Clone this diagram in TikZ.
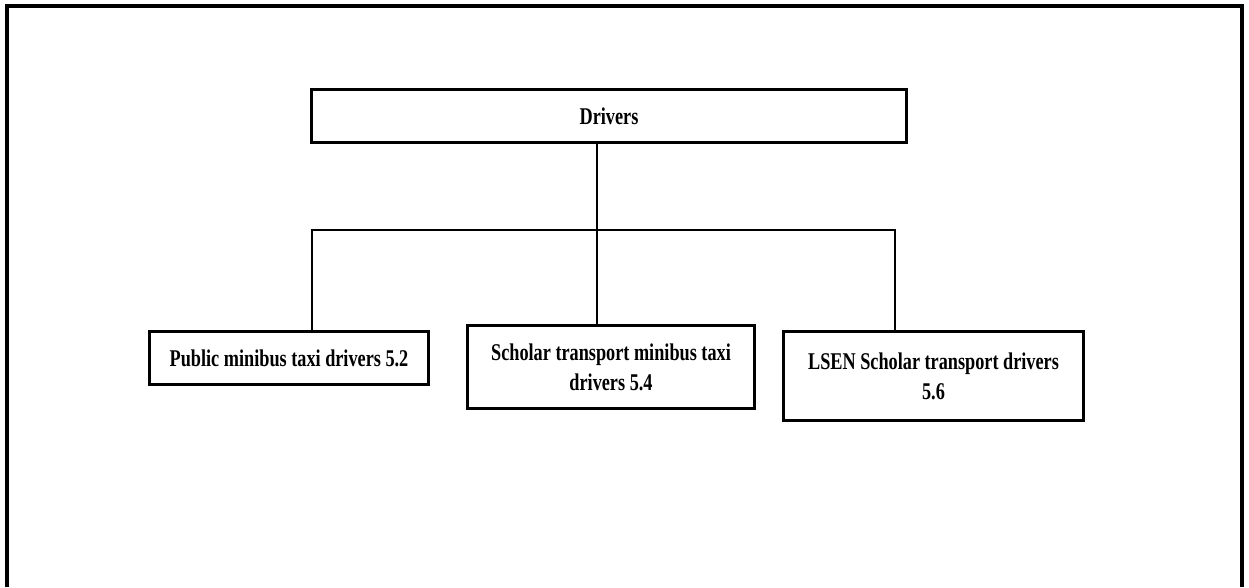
\documentclass[tikz,border=0pt]{standalone}
\usepackage{fontspec}
\setmainfont[FakeStretch=0.76]{Liberation Serif}
\begin{document}
\begin{tikzpicture}[x=1pt,y=-1pt,
  box/.style={draw, line width=3pt, anchor=north west, inner sep=0pt,
    align=center, font=\fontsize{24}{30}\selectfont\bfseries},
  link/.style={line width=2.8pt, line join=miter}]
\useasboundingbox (0,0) rectangle (1249,587);
% outer frame, open at the bottom
\draw[line width=3.2pt] (7,587) -- (7,6) -- (1242,6) -- (1242,587);

% boxes
\node[box, minimum width=595pt, minimum height=53pt] (top) at (310,88) {Drivers};
\node[box, minimum width=279pt, minimum height=53pt] (b1) at (148,330) {Public minibus taxi drivers 5.2};
\node[box, minimum width=287pt, minimum height=83pt] (b2) at (466,324) {Scholar transport minibus taxi\\drivers 5.4};
\node[box, minimum width=300pt, minimum height=89pt] (b3) at (782,330) {LSEN Scholar transport drivers\\5.6};

% branching connectors
\coordinate (bl) at (312,230);
\coordinate (bm) at (597,230);
\coordinate (br) at (895,230);
\draw[link] (top.south -| bm) -- (bm);
\draw[link] (b1.north -| bl) -- (bl) -- (br) -- (b3.north -| br);
\draw[link] (bm) -- (b2.north -| bm);
\end{tikzpicture}
\end{document}
